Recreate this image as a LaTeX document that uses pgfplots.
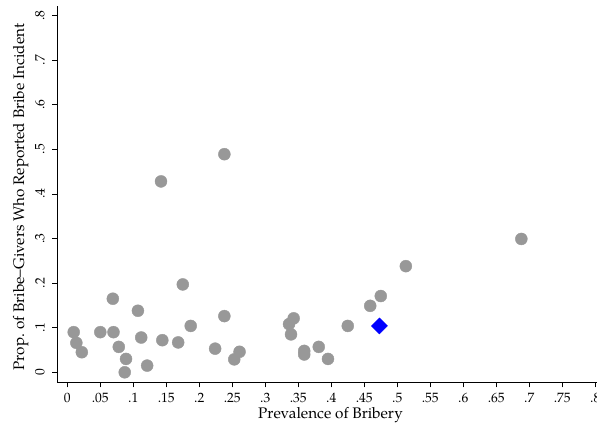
\documentclass[border=0pt]{standalone}
\usepackage{fontspec}
\setmainfont{texgyrepagella-regular.otf}[BoldFont=texgyrepagella-bold.otf]
\usepackage{pgfplots}
\pgfplotsset{compat=1.18}
\definecolor{ptgray}{RGB}{152,152,152}
\begin{document}
\begin{tikzpicture}
\begin{axis}[
  at={(67.3pt,56.7pt)}, anchor=origin,
  scale only axis,
  width=539.7pt, height=376.3pt,
  xmin=-0.0152, xmax=0.8026,
  ymin=-0.0224, ymax=0.8213,
  axis x line*=bottom, axis y line*=left,
  axis line style={line width=0.8pt, -},
  tick style={black, line width=0.6pt},
  tick align=outside,
  major tick length=5pt,
  /pgf/number format/assume math mode=true,
  xtick={0,0.05,...,0.801},
  xticklabels={0,.05,.1,.15,.2,.25,.3,.35,.4,.45,.5,.55,.6,.65,.7,.75,.8},
  ytick={0,0.1,...,0.801},
  yticklabels={0,.1,.2,.3,.4,.5,.6,.7,.8},
  xticklabel style={yshift=-11pt, anchor=center},
  yticklabel style={xshift=-12.3pt, rotate=90, anchor=center},
  ticklabel style={font=\fontsize{13.5}{15}\selectfont},
]
\addplot[only marks, mark=*, mark size=6pt, color=ptgray, mark options={draw=ptgray, fill=ptgray}] coordinates {
(0.0097,0.090) (0.0137,0.066) (0.022,0.045) (0.050,0.090) (0.070,0.090)
(0.069,0.165) (0.078,0.057) (0.089,0.030) (0.087,0.000) (0.107,0.138)
(0.112,0.078) (0.121,0.015) (0.144,0.072) (0.168,0.067) (0.175,0.197)
(0.187,0.104) (0.224,0.053) (0.238,0.126) (0.253,0.029) (0.261,0.046)
(0.336,0.108) (0.343,0.121) (0.339,0.085) (0.359,0.048) (0.359,0.040)
(0.381,0.057) (0.395,0.030) (0.425,0.104) (0.459,0.149) (0.475,0.171)
(0.513,0.238) (0.688,0.299) (0.142,0.428) (0.238,0.489)
};
\addplot[only marks, mark=square*, mark size=5.7pt, color=blue, mark options={draw=blue, fill=blue, rotate=45}] coordinates {
(0.473,0.104)
};
\end{axis}
\node[font=\fontsize{15.3}{17}\selectfont, anchor=center, inner sep=0pt] at (330.5pt,14pt) {Prevalence of Bribery};
\node[font=\fontsize{15.3}{17}\selectfont, anchor=center, inner sep=0pt, rotate=90] at (20.7pt,232pt) {Prop.\ of Bribe\textendash Givers Who Reported Bribe Incident};
\pgfresetboundingbox
\path (0,0) rectangle (597pt,429pt);
\end{tikzpicture}
\end{document}
